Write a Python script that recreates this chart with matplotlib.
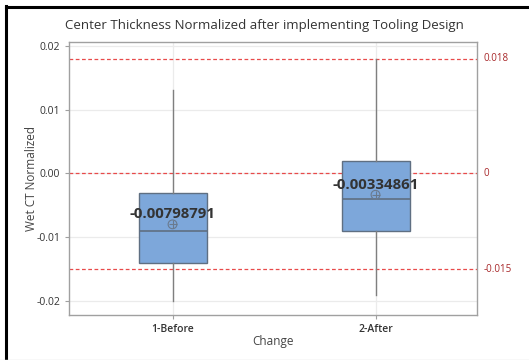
import numpy as np
import matplotlib as mpl
import matplotlib.pyplot as plt
from matplotlib.lines import Line2D

plt.rcParams['font.family'] = ['Open Sans', 'DejaVu Sans']
plt.rcParams['font.size'] = 7.5

# summary statistics per group
groups = ['1-Before', '2-After']
q1 = [-0.014, -0.009]
median = [-0.009, -0.004]
q3 = [-0.003, 0.002]
whisker_lo = [-0.020, -0.019]
whisker_hi = [0.013, 0.018]
means = [-0.00798791, -0.00334861]

# spec / reference lines
ref_values = [0.018, 0, -0.015]
ref_labels = ['0.018', '0', '-0.015']

fig = plt.figure(figsize=(5.29, 3.6), dpi=100)
ax = fig.add_axes([69/529, 1-315/360, 408/529, 273/360])

positions = np.arange(1, len(groups) + 1)
stats = []
for i, g in enumerate(groups):
    stats.append({'label': g, 'q1': q1[i], 'med': median[i], 'q3': q3[i],
                  'whislo': whisker_lo[i], 'whishi': whisker_hi[i],
                  'mean': means[i], 'fliers': []})

ax.bxp(stats, positions=positions, widths=0.335, patch_artist=True,
       showcaps=False, showmeans=False, showfliers=False,
       boxprops=dict(facecolor='#7da7da', edgecolor='#5f6f82', linewidth=1.0),
       medianprops=dict(color='#5f6f82', linewidth=1.2),
       whiskerprops=dict(color='#7f7f7f', linewidth=1.0),
       zorder=3)

# mean symbol: circle with cross
ax.scatter(positions, means, s=40, marker='o', facecolors='none',
           edgecolors='#6a7a8e', linewidths=0.8, zorder=4)
ax.scatter(positions, means, s=40, marker='+', color='#6a7a8e',
           linewidths=0.8, zorder=4)

for p, m in zip(positions, means):
    ax.annotate(f'{m:.8f}'.rstrip('0'), (p, m), xytext=(0, 4.5),
                textcoords='offset points', ha='center', va='baseline',
                fontsize=10.8, fontweight='bold', color='#333333', zorder=5)

for v, lab in zip(ref_values, ref_labels):
    ax.axhline(v, color='#e84a4a', linestyle=(0, (3, 2)), linewidth=0.9, zorder=2)
    ax.annotate(lab, (1.0, v), xycoords=('axes fraction', 'data'),
                xytext=(5, 0), textcoords='offset points', ha='left',
                va='center', fontsize=7, color='#a8282a', annotation_clip=False)

ax.set_xlim(0.49, 2.5)
ax.set_ylim(-0.0222, 0.0206)
ax.set_yticks([-0.02, -0.01, 0.0, 0.01, 0.02])
ax.set_yticklabels(['-0.02', '-0.01', '0.00', '0.01', '0.02'])
ax.set_xticks(positions)
ax.set_xticklabels(groups, fontweight='semibold')

ax.grid(True, color='#ebebeb', linewidth=0.9, zorder=0)
ax.set_axisbelow(True)
for s in ax.spines.values():
    s.set_color('#a0a0a0')
    s.set_linewidth(1.0)
ax.tick_params(colors='#a0a0a0', labelcolor='#333333', length=3, width=0.8)

ax.set_xlabel('Change', fontsize=8.5, color='#444444')
ax.set_ylabel('Wet CT Normalized', fontsize=8.5, color='#444444')
ax.xaxis.set_label_coords(0.5, -0.098)
ax.yaxis.set_label_coords(-0.091, 0.5)
ax.xaxis.label.set_va('center')
ax.yaxis.label.set_va('center')
fig.text(0.5, 1 - 25/360, 'Center Thickness Normalized after implementing Tooling Design',
         ha='center', va='center', fontsize=9.5, color='#333333')

# window frame
fig.add_artist(Line2D([6/529, 6/529], [0, 1 - 6/360], color='black', linewidth=2.2))
fig.add_artist(Line2D([6/529, 1], [1 - 7/360, 1 - 7/360], color='black', linewidth=2.2))
fig.add_artist(Line2D([0, 1], [0.5/360, 0.5/360], color='#e0e0e0', linewidth=1))

fig.savefig('out.png', dpi=100)
